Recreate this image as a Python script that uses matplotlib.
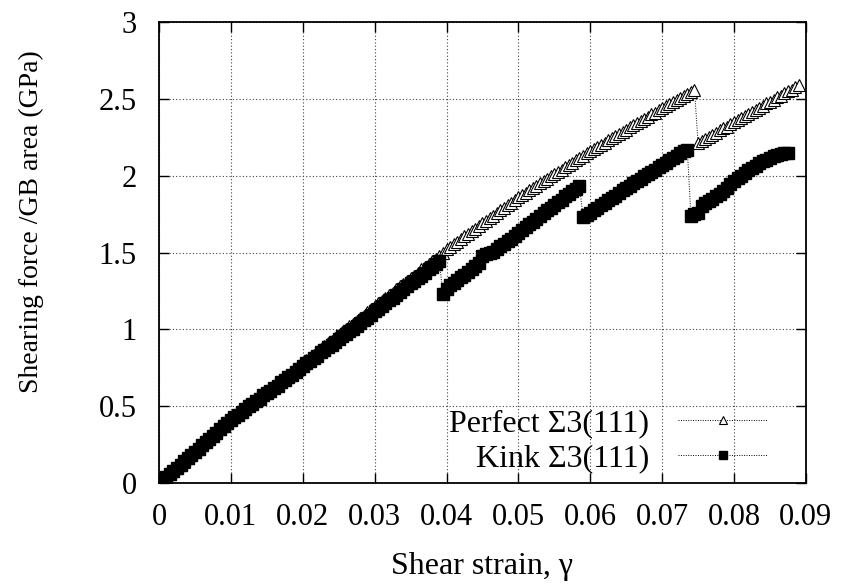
import numpy as np
import matplotlib
matplotlib.use('Agg')
import matplotlib.pyplot as plt

# strain increment between successive snapshots
strain_step = 0.0005

# Perfect Sigma3(111): shearing force / GB area (GPa), one value per step from 0
perfect_force = [
    0, 0.02, 0.04, 0.06, 0.08, 0.10, 0.12, 0.14, 0.165, 0.185,
    0.205, 0.225, 0.245, 0.265, 0.29, 0.31, 0.33, 0.35, 0.37, 0.39,
    0.41, 0.43, 0.45, 0.465, 0.485, 0.505, 0.52, 0.54, 0.56, 0.58,
    0.595, 0.615, 0.635, 0.65, 0.67, 0.69, 0.705, 0.725, 0.745, 0.76,
    0.78, 0.80, 0.815, 0.835, 0.855, 0.87, 0.89, 0.91, 0.925, 0.945,
    0.965, 0.98, 1.00, 1.02, 1.035, 1.055, 1.075, 1.09, 1.11, 1.13,
    1.15, 1.17, 1.185, 1.205, 1.225, 1.24, 1.26, 1.28, 1.295, 1.315,
    1.335, 1.35, 1.37, 1.39, 1.405, 1.425, 1.445, 1.46, 1.48, 1.50,
    1.52, 1.535, 1.555, 1.57, 1.59, 1.605, 1.62, 1.64, 1.655, 1.675,
    1.69, 1.705, 1.725, 1.74, 1.76, 1.775, 1.79, 1.81, 1.825, 1.845,
    1.86, 1.875, 1.89, 1.905, 1.92, 1.935, 1.95, 1.965, 1.98, 1.995,
    2.01, 2.025, 2.04, 2.055, 2.07, 2.085, 2.10, 2.115, 2.13, 2.145,
    2.16, 2.175, 2.19, 2.20, 2.215, 2.23, 2.245, 2.26, 2.27, 2.285,
    2.30, 2.315, 2.33, 2.34, 2.355, 2.37, 2.385, 2.40, 2.41, 2.425,
    2.44, 2.455, 2.465, 2.48, 2.49, 2.505, 2.52, 2.53, 2.545, 2.56,
    2.21, 2.225, 2.24, 2.25, 2.265, 2.28, 2.295, 2.31, 2.32, 2.335,
    2.35, 2.36, 2.375, 2.39, 2.40, 2.415, 2.43, 2.44, 2.455, 2.47,
    2.48, 2.495, 2.51, 2.52, 2.535, 2.55, 2.56, 2.575, 2.59,
]

# Kink Sigma3(111)
kink_force = [
    0, 0.02, 0.04, 0.06, 0.08, 0.10, 0.12, 0.145, 0.165, 0.185,
    0.205, 0.225, 0.245, 0.265, 0.285, 0.305, 0.325, 0.35, 0.37, 0.39,
    0.41, 0.43, 0.445, 0.465, 0.48, 0.50, 0.515, 0.535, 0.55, 0.57,
    0.585, 0.60, 0.62, 0.635, 0.655, 0.67, 0.69, 0.705, 0.725, 0.74,
    0.76, 0.78, 0.795, 0.815, 0.83, 0.85, 0.865, 0.885, 0.90, 0.92,
    0.935, 0.955, 0.97, 0.99, 1.005, 1.025, 1.04, 1.06, 1.075, 1.095,
    1.12, 1.135, 1.155, 1.17, 1.19, 1.205, 1.225, 1.245, 1.26, 1.28,
    1.30, 1.315, 1.335, 1.35, 1.37, 1.39, 1.405, 1.425, 1.445,
    1.23, 1.26, 1.29, 1.305, 1.32, 1.34, 1.355, 1.375, 1.39, 1.41,
    1.43, 1.475, 1.49, 1.495, 1.505, 1.52, 1.54, 1.555, 1.575, 1.59,
    1.61, 1.63, 1.65, 1.665, 1.685, 1.70, 1.72, 1.74, 1.755, 1.775,
    1.79, 1.81, 1.83, 1.845, 1.865, 1.88, 1.90, 1.915, 1.935,
    1.73, 1.745, 1.76, 1.775, 1.79, 1.81, 1.825, 1.84, 1.855, 1.87,
    1.89, 1.905, 1.92, 1.935, 1.95, 1.965, 1.98, 1.995, 2.01, 2.025,
    2.04, 2.055, 2.07, 2.085, 2.10, 2.115, 2.13, 2.145, 2.16, 2.17,
    1.74, 1.75, 1.76, 1.80, 1.825, 1.835, 1.85, 1.865, 1.88, 1.90,
    1.92, 1.945, 1.965, 1.985, 2.00, 2.02, 2.035, 2.05, 2.065, 2.08,
    2.095, 2.105, 2.115, 2.125, 2.135, 2.14, 2.145, 2.15,
]

perfect_strain = np.arange(len(perfect_force)) * strain_step
kink_strain = np.arange(len(kink_force)) * strain_step

x_ticks = [0, 0.01, 0.02, 0.03, 0.04, 0.05, 0.06, 0.07, 0.08, 0.09]
x_tick_labels = ['0', '0.01', '0.02', '0.03', '0.04', '0.05', '0.06', '0.07', '0.08', '0.09']
y_ticks = [0, 0.5, 1, 1.5, 2, 2.5, 3]
y_tick_labels = ['0', '0.5', '1', '1.5', '2', '2.5', '3']

plt.rcParams['font.family'] = ['Liberation Serif', 'DejaVu Serif']

fig = plt.figure(figsize=(8.43, 5.87), dpi=100)
ax = fig.add_axes([0.1886, 0.177, 0.7674, 0.7855])

ax.plot(perfect_strain, perfect_force, color='black', linestyle=(0, (1, 1.5)),
        linewidth=0.7, marker='^', markersize=8, markerfacecolor='white',
        markeredgecolor='black', markeredgewidth=0.8, label='Perfect Σ3(111)')
ax.plot(kink_strain, kink_force, color='black', linestyle=(0, (1, 1.5)),
        linewidth=0.7, marker='s', markersize=8, markerfacecolor='black',
        markeredgecolor='black', label='Kink Σ3(111)')

ax.set_xlim(0, 0.09)
ax.set_ylim(0, 3)
ax.set_xticks(x_ticks)
ax.set_xticklabels(x_tick_labels)
ax.set_yticks(y_ticks)
ax.set_yticklabels(y_tick_labels)

ax.grid(True, color='#444444', linestyle=(0, (1, 2)), linewidth=0.8)
ax.set_axisbelow(True)
ax.tick_params(direction='in', length=7, width=1, top=True, right=True,
               labelsize=22)
ax.tick_params(axis='x', pad=14)
ax.tick_params(axis='y', pad=16)
for s in ax.spines.values():
    s.set_linewidth(1.3)

ax.set_xlabel('Shear strain, γ', fontsize=23, labelpad=15)
ax.set_ylabel('Shearing force /GB area (GPa)', fontsize=20)
ax.yaxis.set_label_coords(-0.178, 0.566)

leg = ax.legend(loc='lower right', bbox_to_anchor=(0.975, -0.026), frameon=False,
                markerfirst=False, handlelength=2.8, handletextpad=0.9,
                labelspacing=0.15, borderpad=0.2, fontsize=23, markerscale=0.8)
for t in leg.get_texts():
    t.set_ha('right')

fig.savefig('out.png', dpi=100)
plt.close(fig)
